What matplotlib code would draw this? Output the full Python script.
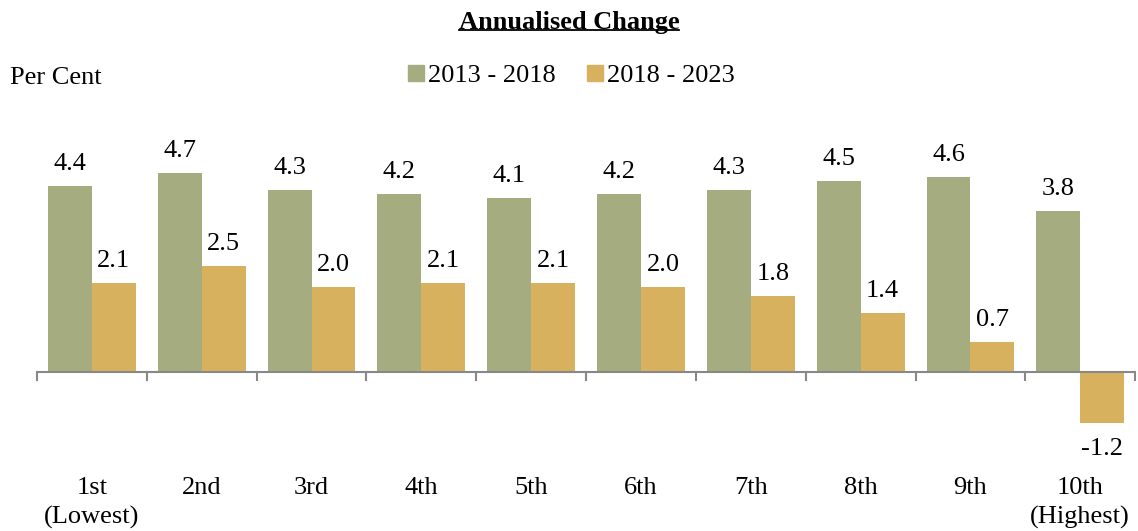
import matplotlib.pyplot as plt
import matplotlib.transforms as mtransforms
from matplotlib.patches import Patch
from matplotlib.lines import Line2D
import numpy as np

plt.rcParams['font.family'] = ['Liberation Serif', 'DejaVu Serif']

deciles = ['1st\n(Lowest)', '2nd', '3rd', '4th', '5th', '6th', '7th', '8th', '9th', '10th\n(Highest)']
change_2013_2018 = [4.4, 4.7, 4.3, 4.2, 4.1, 4.2, 4.3, 4.5, 4.6, 3.8]
change_2018_2023 = [2.1, 2.5, 2.0, 2.1, 2.1, 2.0, 1.8, 1.4, 0.7, -1.2]

green = '#A4AC80'
gold = '#D8B15E'
fs = 19

fig = plt.figure(figsize=(11.38, 5.31), dpi=100)
ax = fig.add_axes([0.0325, 0.140, 0.965, 0.638])

x = np.arange(len(deciles))
w = 0.4
ax.bar(x - w / 2, change_2013_2018, w, color=green)
ax.bar(x + w / 2, change_2018_2023, w, color=gold)

# value labels
for xi, v in zip(x - w / 2, change_2013_2018):
    ax.annotate(f'{v:.1f}', (xi, v), xytext=(0, 8), textcoords='offset points',
                ha='center', va='bottom', fontsize=fs)
for xi, v in zip(x + w / 2, change_2018_2023):
    if v >= 0:
        ax.annotate(f'{v:.1f}', (xi, v), xytext=(0, 8), textcoords='offset points',
                    ha='center', va='bottom', fontsize=fs)
    else:
        ax.annotate(f'{v:.1f}', (xi, v), xytext=(0, -11), textcoords='offset points',
                    ha='center', va='top', fontsize=fs)

ax.set_xlim(-0.5, len(deciles) - 0.5)
ax.set_ylim(-2, 6)
for s in ['top', 'right', 'left', 'bottom']:
    ax.spines[s].set_visible(False)
ax.axhline(0, color='#888888', lw=1.5)
ax.set_yticks([])
ax.set_xticks([])
# tick marks at group boundaries
for b in np.arange(-0.5, len(deciles), 1.0):
    ax.plot([b, b], [0, -0.2], color='#888888', lw=1.5, clip_on=False)

# category labels near the bottom
trans = mtransforms.blended_transform_factory(ax.transData, fig.transFigure)
for xi, lab in zip(x, deciles):
    ax.text(xi, 1 - 477 / 531, lab, transform=trans, ha='center', va='top',
            fontsize=fs, linespacing=1.4)

# title with underline
title = fig.text(0.5, 1 - 22 / 531, 'Annualised Change', ha='center', va='center',
                 fontsize=fs, fontweight='bold')
fig.text(10 / 1138, 1 - 78 / 531, 'Per Cent', ha='left', va='center', fontsize=fs)

handles = [Patch(color=green, label='2013 - 2018'), Patch(color=gold, label='2018 - 2023')]
fig.legend(handles=handles, loc='center', bbox_to_anchor=(0.502, 1 - 76 / 531), ncol=2,
           frameon=False, fontsize=fs, handlelength=0.6, handleheight=0.6,
           handletextpad=0.15, columnspacing=1.2)

fig.canvas.draw()
bb = title.get_window_extent().transformed(fig.transFigure.inverted())
fig.add_artist(Line2D([bb.x0, bb.x1], [bb.y0 + 0.006, bb.y0 + 0.006], color='black', lw=1.3,
                      transform=fig.transFigure))

fig.savefig('out.png', dpi=100)
